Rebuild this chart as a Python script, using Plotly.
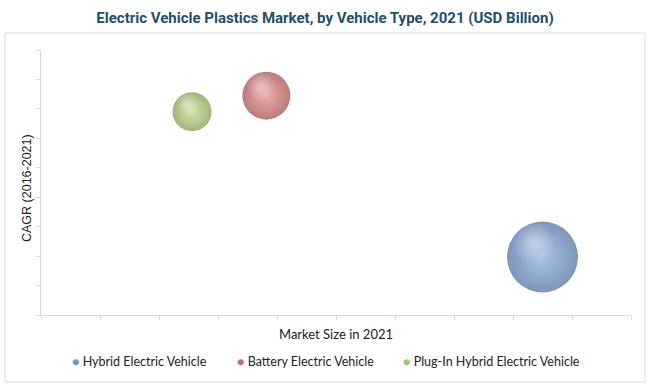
import plotly.graph_objects as go

# Data (axis units; axes carry no tick labels)
segments = ["Hybrid Electric Vehicle", "Battery Electric Vehicle", "Plug-In Hybrid Electric Vehicle"]
market_size = [8.5, 3.82, 2.56]
cagr = [1.97, 7.45, 6.9]
bubble_size = [71, 48, 39]

# Styles
center_colors = ["#84a8dc", "#e58787", "#bfdc84"]
edge_colors = ["#46699c", "#a04343", "#769440"]
legend_colors = ["#6f96cc", "#d06767", "#a4c46c"]
legend_x_px = [70, 235, 401]

L, R, T, B = 41, 19, 50, 76
W, H = 650, 391
pw, ph = W - L - R, H - T - B
X_RANGE = [0, 10]
Y_RANGE = [0, 9]

def px_x(px):
    return (px - L) / pw

def px_y(py):
    return (H - B - py) / ph

x_per_px = (X_RANGE[1] - X_RANGE[0]) / pw
y_per_px = (Y_RANGE[1] - Y_RANGE[0]) / ph

fig = go.Figure()
for i, name in enumerate(segments):
    d = bubble_size[i]
    fig.add_trace(go.Scatter(
        x=[market_size[i]], y=[cagr[i]], mode="markers", name=name,
        marker=dict(size=[d], sizemode="diameter", sizeref=1,
                    color=edge_colors[i],
                    gradient=dict(type="radial", color=center_colors[i]),
                    line=dict(width=0)),
        showlegend=False, hoverinfo="skip"))
    # specular highlight, derived from the bubble's own position and size
    fig.add_trace(go.Scatter(
        x=[market_size[i] - 0.12 * d * x_per_px], y=[cagr[i] + 0.2 * d * y_per_px],
        mode="markers", name=name + " highlight",
        marker=dict(size=[0.6 * d], sizemode="diameter", sizeref=1,
                    color="rgba(255,255,255,0)",
                    gradient=dict(type="radial", color="rgba(255,255,255,0.6)"),
                    line=dict(width=0)),
        showlegend=False, hoverinfo="skip"))

axis_common = dict(showgrid=False, zeroline=False, showline=True, linecolor="#d9d9d9",
                   linewidth=1, ticks="outside", ticklen=4, tickcolor="#d9d9d9",
                   showticklabels=False, fixedrange=True)

fig.update_xaxes(range=X_RANGE, dtick=1, tick0=0, **axis_common)
fig.update_yaxes(range=Y_RANGE, dtick=1, tick0=0, **axis_common)

annotations = [
    dict(text="Market Size in 2021", xref="paper", yref="paper",
         x=px_x(336), y=px_y(334), xanchor="center", yanchor="middle", showarrow=False,
         font=dict(family="Lato, Open Sans", size=13, color="#222222")),
    dict(text="CAGR (2016-2021)", xref="paper", yref="paper", textangle=-90,
         x=px_x(27), y=px_y(188), xanchor="center", yanchor="middle", showarrow=False,
         font=dict(family="Liberation Sans, Arial", size=12.5, color="#222222")),
]
for i, name in enumerate(segments):
    annotations.append(dict(
        text=f"<span style='color:{legend_colors[i]}'>●</span> {name}",
        xref="paper", yref="paper", x=px_x(legend_x_px[i]), y=px_y(361),
        xanchor="left", yanchor="middle", showarrow=False,
        font=dict(family="Lato, Open Sans", size=12.5, color="#222222")))

fig.update_layout(
    width=W, height=H,
    margin=dict(l=L, r=R, t=T, b=B),
    paper_bgcolor="white", plot_bgcolor="white",
    showlegend=False,
    title=dict(text="<b>Electric Vehicle Plastics Market, by Vehicle Type, 2021 (USD Billion)</b>",
               x=0.5, xanchor="center", y=1 - 18 / H, yanchor="middle",
               font=dict(family="Liberation Sans Narrow, Roboto, Arial", size=15, color="#1d4f6e")),
    shapes=[dict(type="rect", xref="paper", yref="paper",
                 x0=px_x(5), x1=px_x(645), y0=px_y(382), y1=px_y(33),
                 line=dict(color="#dcdcdc", width=1), layer="below")],
    annotations=annotations,
)

fig.write_html("out.html", config={"displayModeBar": False},
               post_script="document.body.style.margin='0';")
